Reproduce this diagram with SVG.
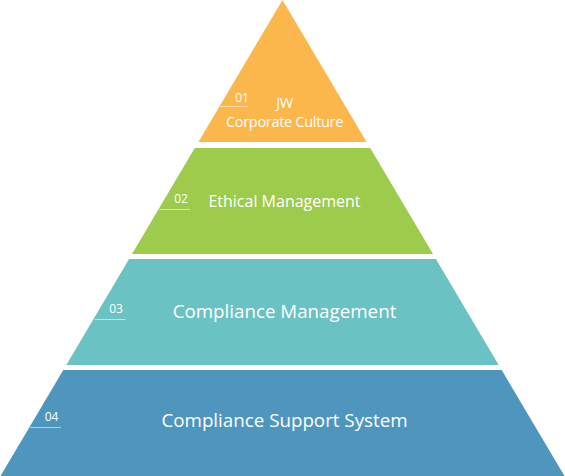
<svg xmlns="http://www.w3.org/2000/svg" width="565" height="476" viewBox="0 0 565 476">
<style>
.lbl{font-family:"Open Sans","Noto Sans","DejaVu Sans",sans-serif;fill:#ffffff;text-anchor:middle}
.num{font-family:"Open Sans","Noto Sans","DejaVu Sans",sans-serif;fill:#ffffff;font-size:12px;text-anchor:middle}
.ul{stroke:#ffffff;stroke-opacity:0.55;stroke-width:1}
</style>
<rect width="565" height="476" fill="#ffffff"/>
<g id="tier1">
<polygon points="282.5,0 366.6,142 198.4,142" fill="#FBB64C"/>
<line class="ul" x1="220" y1="106.5" x2="248" y2="106.5"/>
<text class="num" x="242" y="102">01</text>
<text class="lbl" x="284.5" y="107.5" font-size="14.5" letter-spacing="-0.3">JW</text>
<text class="lbl" x="284.5" y="126.5" font-size="14.5" letter-spacing="-0.3">Corporate Culture</text>
</g>
<g id="tier2">
<polygon points="194.8,148 370.2,148 433.0,254 132.0,254" fill="#9DCB4C"/>
<line class="ul" x1="159" y1="209.5" x2="190" y2="209.5"/>
<text class="num" x="181" y="203">02</text>
<text class="lbl" x="284.5" y="207" font-size="16">Ethical Management</text>
</g>
<g id="tier3">
<polygon points="129.1,259 435.9,259 498.7,365 66.3,365" fill="#6BC2C2"/>
<line class="ul" x1="94.5" y1="319.5" x2="125.5" y2="319.5"/>
<text class="num" x="116" y="313">03</text>
<text class="lbl" x="284.5" y="318" font-size="18.75">Compliance Management</text>
</g>
<g id="tier4">
<polygon points="63.3,370 501.7,370 564.5,476 0.5,476" fill="#4F96BF"/>
<line class="ul" x1="30" y1="427.5" x2="61" y2="427.5"/>
<text class="num" x="51.5" y="421">04</text>
<text class="lbl" x="284.5" y="427" font-size="18.75">Compliance Support System</text>
</g>
<g id="connectors"/>
</svg>
